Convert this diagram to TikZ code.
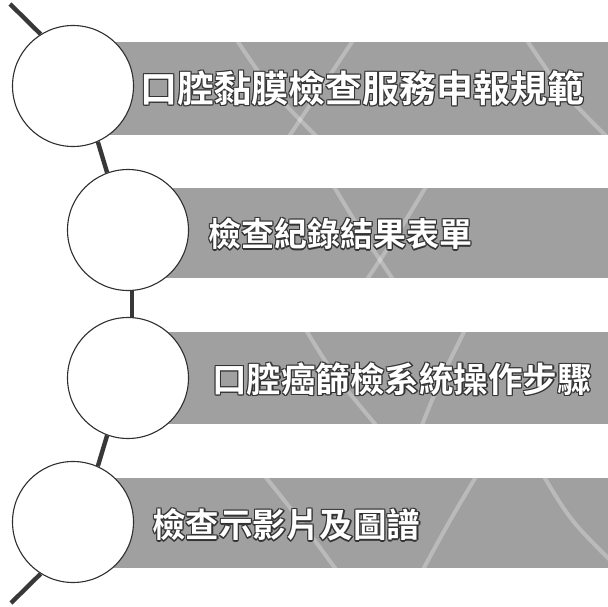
\documentclass[tikz,border=0pt]{standalone}
\usepackage{fontspec}
\IfFontExistsTF{Noto Sans CJK TC Bold}
  {\newfontfamily\cjk{Noto Sans CJK TC Bold}}
  {\IfFontExistsTF{Noto Sans CJK TC Black}
    {\newfontfamily\cjk{Noto Sans CJK TC Black}}
    {\newfontfamily\cjk{Noto Sans CJK TC}}}
\definecolor{bandgray}{HTML}{A0A0A0}
\definecolor{ringgray}{HTML}{303030}
\newcommand\outtext[5]{%
  \foreach \dx/\dy [count=\k] in {-1/-1,1/-1,-1/1,1/1,0/1.3,1.3/0}{%
    \node[lbl, text=black!80, font=\fontsize{#4}{#4}\selectfont\cjk] (#1s\k) at ([shift={(\dx,\dy)}]#2,#3) {#5};}
  \node[lbl, font=\fontsize{#4}{#4}\selectfont\cjk] (#1) at (#2,#3) {#5};}
\begin{document}
\begin{tikzpicture}[x=1pt,y=-1pt,
  band/.style={fill=bandgray, draw=none},
  swoosh/.style={draw=white, opacity=0.28, line width=4pt},
  ring/.style={circle, draw=ringgray, line width=1.1pt, fill=white, minimum size=121pt, inner sep=0pt},
  link/.style={draw=black!78, line width=4.4pt},
  lbl/.style={anchor=west, inner sep=0pt, text=white}
]
\useasboundingbox (0,0) rectangle (608,607);
\fill[white] (0,0) rectangle (608,607);
% bands
\fill[band] (73,42) rectangle (608,135);
\fill[band] (128,188) rectangle (608,278);
\fill[band] (128,332) rectangle (608,424);
\fill[band] (73,478) rectangle (608,568);
% faint texture
\begin{scope}
  \clip (73,42) rectangle (608,135) (128,188) rectangle (608,278)
        (128,332) rectangle (608,424) (73,478) rectangle (608,568);
  \draw[swoosh] (230,30) .. controls (270,90) .. (330,150);
  \draw[swoosh] (360,30) .. controls (320,90) .. (280,150);
  \draw[swoosh] (520,30) .. controls (560,90) .. (610,140);
  \draw[swoosh] (330,180) .. controls (360,230) .. (400,290);
  \draw[swoosh] (430,180) .. controls (400,230) .. (360,290);
  \draw[swoosh] (300,320) .. controls (330,370) .. (380,430);
  \draw[swoosh] (470,320) .. controls (440,380) .. (420,430);
  \draw[swoosh] (260,470) .. controls (300,520) .. (340,575);
  \draw[swoosh] (480,470) .. controls (450,520) .. (420,575);
  \draw[swoosh] (540,470) .. controls (570,520) .. (610,560);
\end{scope}
% circles
\node[ring] (c1) at (73,86) {};
\node[ring] (c2) at (128,230) {};
\node[ring] (c3) at (128,378) {};
\node[ring] (c4) at (73,522) {};
% connectors
\coordinate (start) at (10,4);
\coordinate (finish) at (11,603);
\draw[link] (start) -- (c1.122);
\draw[link] (c1.-66) -- (c2.110);
\draw[link] (c2.-86) -- (c3.86);
\draw[link] (c3.-110) -- (c4.66);
\draw[link] (c4.-122) -- (finish);
% labels
\outtext{t1}{140}{88}{37pt}{口腔黏膜檢查服務申報規範}
\outtext{t2}{208}{234}{33pt}{檢查紀錄結果表單}
\outtext{t3}{212}{379}{34.5pt}{口腔癌篩檢系統操作步驟}
\outtext{t4}{152}{525}{33.5pt}{檢查示影片及圖譜}
\end{tikzpicture}
\end{document}
